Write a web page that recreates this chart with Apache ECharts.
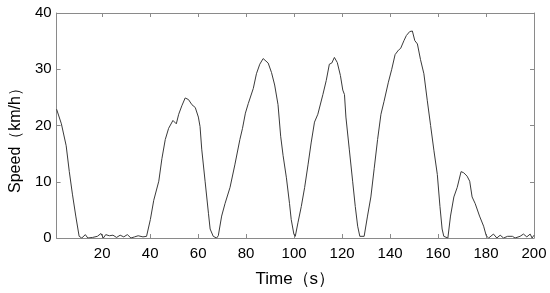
<!DOCTYPE html>
<html>
<head>
<meta charset="utf-8">
<script src="https://cdn.jsdelivr.net/npm/echarts@6/dist/echarts.min.js"></script>
<style>
  html, body { margin: 0; padding: 0; background: #fff; }
  #main { width: 550px; height: 293px; }
</style>
</head>
<body>
<div id="main"></div>
<script>
// time (s) and speed (km/h)
const times = [
  1, 3, 5, 6.3, 7.6, 9, 10.4, 11.5, 13, 14, 16, 18, 19.5, 20.5, 21.5, 23, 24.5, 26, 27.5, 29,
  30.5, 32, 33.5, 35, 37, 38.5, 39.3, 40.1, 41.5, 43.6, 44.9, 46.3, 47.7, 49.5, 50.9, 51.9,
  53.2, 54.6, 56, 57.4, 58.8, 60.1, 60.8, 61.5, 62.9, 64.3, 65, 66.3, 67.7, 68.4, 69.8, 71.2,
  73.3, 75.3, 77.4, 78.5, 79.7, 80.9, 81.6, 83, 84.3, 85.7, 87.1, 87.8, 89.2, 90.6, 91.9,
  93.3, 94.4, 95.4, 96.8, 98.1, 98.8, 99.9, 100.5, 101.6, 103, 104.4, 105.8, 107.1, 108.5,
  109.9, 110.6, 112, 113.4, 114.7, 115.7, 116.8, 118, 119.3, 120.3, 121, 121.6, 123, 124.4,
  125.5, 126.5, 127.4, 129.2, 130.6, 132, 133.4, 134.8, 136.2, 137.5, 138.2, 139.3, 140.7,
  142.1, 143.5, 144.4, 145.8, 146.8, 148.2, 149.3, 150.3, 151.4, 152.7, 154.1, 155.5, 156.9,
  158.3, 159.7, 160.8, 161.7, 162.4, 164.1, 165.2, 166.6, 168, 169.6, 170.7, 172.1, 173.2,
  174.2, 175.5, 177.3, 179, 180.1, 181.1, 183.1, 184.5, 185.9, 187.3, 189, 191, 192.1, 194.2,
  195.6, 197, 198.4, 199.2, 200
];
const speeds = [
  22.9, 20.3, 16.4, 11.8, 7.8, 3.9, 0.3, 0, 0.6, 0, 0.1, 0.3, 0.8, 0, 0.6, 0.4, 0.5, 0.1, 0.5, 0.2,
  0.6, 0, 0.2, 0.4, 0.2, 0.3, 0.3, 3.3, 6.7, 10.1, 14.1, 17.5, 19.5, 20.9, 20.3, 22,
  23.5, 24.9, 24.6, 23.7, 23.2, 21.5, 19.8, 15.8, 10.1, 4.4, 1.6, 0.3, 0, 0.4, 3.9, 6.1,
  9.0, 13, 17.5, 19.5, 22.2, 23.9, 24.0, 26.6, 29.2, 30.9, 31.9, 31.9, 31.1, 29.4, 27.2,
  23.7, 18.1, 14.7, 10.7, 6.1, 3.3, 0.7, 0.3, 2.7, 5.6, 9.0, 13, 16.9, 20.6,
  22, 22.2, 25.5, 28, 30.9, 31.1, 32.1, 31.2, 28.9, 26.3, 25.5, 21.5, 15.8, 10.1,
  5.6, 2.1, 0.3, 0.3, 3.9, 7.3, 12.4, 17.5, 22, 24.3, 24.6, 27.7, 30,
  32.6, 33.4, 33.7, 35.1, 36, 36.7, 36.8, 35.1, 34.5, 31.7, 29.2, 24.5, 20,
  15.5, 11.3, 5.6, 1.6, 0.3, 0, 3.9, 7.3, 9.0, 11.8, 11.6, 11.0, 10.1,
  7.3, 6.1, 3.9, 2.1, 0.4, 0, 0.7, 0, 0.5, 0, 0.3, 0.3, 0, 0.3,
  0.7, 0.2, 0.7, 0, 0.5
];
const xTicks = [20, 40, 60, 80, 100, 120, 140, 160, 180, 200];
const yTicks = [0, 10, 20, 30, 40];

const frameColor = '#8a8a8a';
const font = 'Arial, "Liberation Sans", sans-serif';

const chart = echarts.init(document.getElementById('main'));

const xBase = {
  type: 'value',
  min: 1,
  max: 200,
  splitLine: { show: false },
  axisLine: { show: true, onZero: false, lineStyle: { color: frameColor, width: 1 } },
  axisTick: { show: true, inside: true, length: 4, customValues: xTicks,
    lineStyle: { color: frameColor } }
};
const yBase = {
  type: 'value',
  min: 0,
  max: 40,
  interval: 10,
  splitLine: { show: false },
  axisLine: { show: true, onZero: false, lineStyle: { color: frameColor, width: 1 } },
  axisTick: { show: true, inside: true, length: 4, customValues: yTicks,
    lineStyle: { color: frameColor } }
};

chart.setOption({
  animation: false,
  grid: { left: 54, right: 16, top: 13, bottom: 46, containLabel: false },
  xAxis: [
    Object.assign({}, xBase, {
      position: 'bottom',
      name: 'Time（s）',
      nameLocation: 'middle',
      nameGap: 33,
      nameTextStyle: { color: '#000', fontSize: 17, fontFamily: font },
      axisLabel: { show: true, customValues: xTicks, color: '#000', fontSize: 15,
        fontFamily: font, margin: 8 }
    }),
    Object.assign({}, xBase, { position: 'top', axisLabel: { show: false } })
  ],
  yAxis: [
    Object.assign({}, yBase, {
      position: 'left',
      name: 'Speed（km/h）',
      nameLocation: 'middle',
      nameGap: 32,
      nameTextStyle: { color: '#000', fontSize: 16, fontFamily: font, padding: [0, 22, 0, 0] },
      axisLabel: { show: true, customValues: yTicks, color: '#000', fontSize: 15,
        fontFamily: font, margin: 5 }
    }),
    Object.assign({}, yBase, { position: 'right', axisLabel: { show: false } })
  ],
  series: [{
    type: 'line',
    xAxisIndex: 0,
    yAxisIndex: 0,
    showSymbol: false,
    smooth: false,
    lineStyle: { color: '#3a3a3a', width: 1 },
    data: times.map((t, i) => [t, speeds[i]])
  }]
});
</script>
</body>
</html>
